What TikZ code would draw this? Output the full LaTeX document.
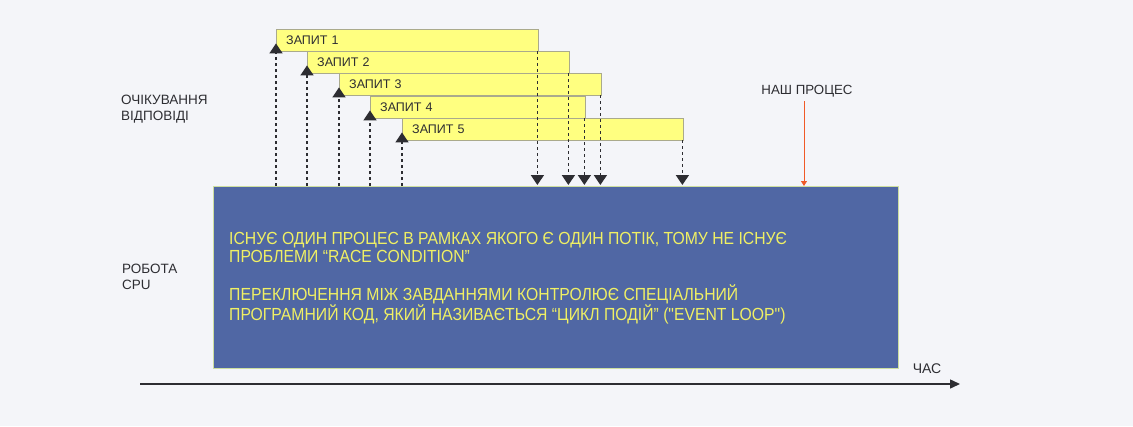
\documentclass[tikz,border=0pt]{standalone}
\usepackage{fontspec}
\setmainfont{Liberation Sans}
\newfontfamily\boxfont[FakeStretch=0.9]{Liberation Sans}
\usetikzlibrary{
  arrows.meta,
  calc,
  positioning,
}
\definecolor{bgcol}{RGB}{244,245,249}
\definecolor{cpublue}{RGB}{80,103,164}
\definecolor{cpuedge}{RGB}{205,222,160}
\definecolor{reqyellow}{RGB}{255,255,128}
\definecolor{reqedge}{RGB}{170,170,140}
\definecolor{txtyellow}{RGB}{240,240,100}
\definecolor{darkline}{RGB}{45,45,50}
\definecolor{ourred}{RGB}{240,90,40}
\tikzset{
  >=Triangle[],
  reqbar/.style={rectangle,draw=reqedge,fill=reqyellow,anchor=north west,minimum height=22,inner xsep=10pt,inner ysep=0pt,align=left,font=\fontsize{12.5}{14}\selectfont,text=darkline},
  waitline/.style={darkline,line width=1.5pt,dash pattern=on 3pt off 3pt,-{Triangle[width=13pt,length=10pt]}},
  sidelabel/.style={anchor=north west,inner sep=0pt,align=left,font=\fontsize{13.5}{15.5}\selectfont,text=darkline},
}

\begin{document}
\begin{tikzpicture}[x=1pt,y=-1pt]

        \path[fill=bgcol,use as bounding box] (0,0) rectangle (1133,426);

        \node[rectangle,draw=cpuedge,line width=0.6pt,fill=cpublue,anchor=north west,minimum width=685,minimum height=182] (cpu) at (213,186) {};
        \node[anchor=north west,inner sep=0pt,align=left,text=txtyellow,font=\boxfont\fontsize{17.5}{18.5}\selectfont] (cputext) at (229,232)
          {ІСНУЄ ОДИН ПРОЦЕС В РАМКАХ ЯКОГО Є ОДИН ПОТІК, ТОМУ НЕ ІСНУЄ\\
           ПРОБЛЕМИ “RACE CONDITION”\\[19pt]
           ПЕРЕКЛЮЧЕННЯ МІЖ ЗАВДАННЯМИ КОНТРОЛЮЄ СПЕЦІАЛЬНИЙ\\
           ПРОГРАМНИЙ КОД, ЯКИЙ НАЗИВАЄТЬСЯ “ЦИКЛ ПОДІЙ” ("EVENT LOOP")};

        \node[reqbar,text width=242pt] (req1) at (276,29)  {ЗАПИТ 1};
        \node[reqbar,text width=242pt] (req2) at (307,51)  {ЗАПИТ 2};
        \node[reqbar,text width=242pt] (req3) at (339,73)  {ЗАПИТ 3};
        \node[reqbar,text width=195pt] (req4) at (370,96)  {ЗАПИТ 4};
        \node[reqbar,text width=261pt] (req5) at (402,118) {ЗАПИТ 5};

        % sending the requests
        \draw[waitline] (req1.south west |- cpu.north) -- ([yshift=8pt]req1.south west);
        \draw[waitline] (req2.south west |- cpu.north) -- ([yshift=8pt]req2.south west);
        \draw[waitline] (req3.south west |- cpu.north) -- ([yshift=8pt]req3.south west);
        \draw[waitline] (req4.south west |- cpu.north) -- ([yshift=8pt]req4.south west);
        \draw[waitline] (req5.south west |- cpu.north) -- ([yshift=8pt]req5.south west);

        % answers coming back
        \draw[waitline] ([xshift=-1pt]req1.south east) -- ([xshift=-1pt,yshift=1pt]req1.south east |- cpu.north);
        \draw[waitline] ([xshift=-1pt]req2.south east) -- ([xshift=-1pt,yshift=1pt]req2.south east |- cpu.north);
        \draw[waitline] ([xshift=-1pt]req3.south east) -- ([xshift=-1pt,yshift=1pt]req3.south east |- cpu.north);
        \draw[waitline] ([xshift=-1pt]req4.south east) -- ([xshift=-1pt,yshift=1pt]req4.south east |- cpu.north);
        \draw[waitline] ([xshift=-1pt]req5.south east) -- ([xshift=-1pt,yshift=1pt]req5.south east |- cpu.north);

        \node[sidelabel] (waitlbl) at (121,95)  {ОЧІКУВАННЯ\\ВІДПОВІДІ};
        \node[sidelabel] (cpulbl)  at (122,264) {РОБОТА\\CPU};

        \node[inner sep=0pt,font=\fontsize{13.3}{15}\selectfont,text=darkline] (ours) at (807,91) {НАШ ПРОЦЕС};
        \coordinate (redtop) at (804,101);
        \draw[ourred,line width=0.8pt,-{Triangle[width=6pt,length=5pt]}] (redtop) -- (redtop |- cpu.north);

        \coordinate (tstart) at (140,384);
        \coordinate (tend)   at (960,384);
        \draw[darkline,line width=1.5pt,-{Triangle[width=9pt,length=10pt]}] (tstart) -- (tend);
        \node[anchor=south,inner sep=0pt,font=\fontsize{14}{15}\selectfont,text=darkline] (timelbl) at (927,374) {ЧАС};

\end{tikzpicture}
\end{document}
